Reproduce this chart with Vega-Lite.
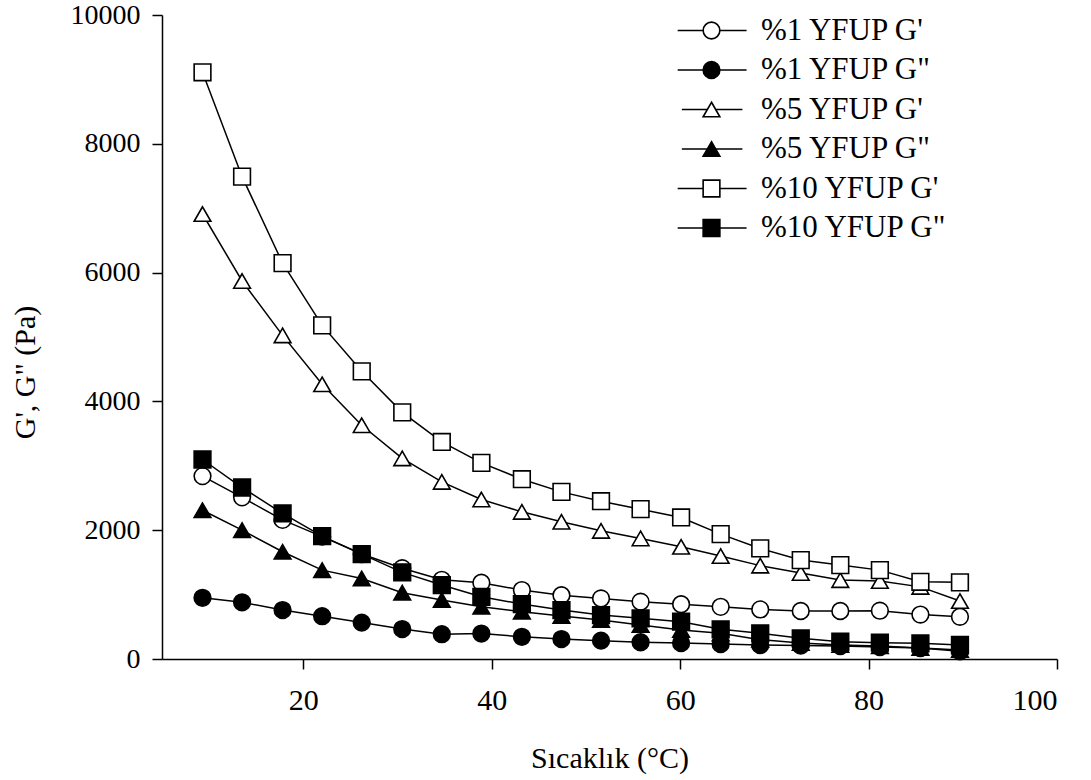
{
  "$schema": "https://vega.github.io/schema/vega-lite/v6.json",
  "autosize": {"type": "none"},
  "padding": {"left": 162, "top": 15, "right": 34, "bottom": 121},
  "width": 895,
  "height": 644,
  "background": "white",
  "config": {
    "font": "Liberation Serif",
    "view": {"stroke": null},
    "axis": {
      "grid": false,
      "domainColor": "black",
      "domainWidth": 1.5,
      "tickColor": "black",
      "tickWidth": 1.5,
      "tickSize": 10,
      "labelColor": "black",
      "labelFontSize": 30,
      "labelFont": "Liberation Serif",
      "titleColor": "black",
      "titleFontSize": 30,
      "titleFont": "Liberation Serif",
      "titleFontWeight": "normal"
    },
    "legend": {
      "labelFont": "Liberation Serif",
      "labelFontSize": 31,
      "labelColor": "black",
      "labelLimit": 0
    }
  },
  "data": {
    "values": [
      {"T": 9.3, "G": 2840, "s": "%1 YFUP G'"},
      {"T": 13.5, "G": 2510, "s": "%1 YFUP G'"},
      {"T": 17.8, "G": 2160, "s": "%1 YFUP G'"},
      {"T": 22.0, "G": 1900, "s": "%1 YFUP G'"},
      {"T": 26.2, "G": 1630, "s": "%1 YFUP G'"},
      {"T": 30.5, "G": 1410, "s": "%1 YFUP G'"},
      {"T": 34.7, "G": 1230, "s": "%1 YFUP G'"},
      {"T": 38.9, "G": 1184, "s": "%1 YFUP G'"},
      {"T": 43.2, "G": 1070, "s": "%1 YFUP G'"},
      {"T": 47.4, "G": 990, "s": "%1 YFUP G'"},
      {"T": 51.6, "G": 940, "s": "%1 YFUP G'"},
      {"T": 55.8, "G": 890, "s": "%1 YFUP G'"},
      {"T": 60.1, "G": 850, "s": "%1 YFUP G'"},
      {"T": 64.3, "G": 810, "s": "%1 YFUP G'"},
      {"T": 68.5, "G": 770, "s": "%1 YFUP G'"},
      {"T": 72.8, "G": 745, "s": "%1 YFUP G'"},
      {"T": 77.0, "G": 745, "s": "%1 YFUP G'"},
      {"T": 81.2, "G": 750, "s": "%1 YFUP G'"},
      {"T": 85.5, "G": 690, "s": "%1 YFUP G'"},
      {"T": 89.7, "G": 655, "s": "%1 YFUP G'"},
      {"T": 9.3, "G": 950, "s": "%1 YFUP G\""},
      {"T": 13.5, "G": 880, "s": "%1 YFUP G\""},
      {"T": 17.8, "G": 760, "s": "%1 YFUP G\""},
      {"T": 22.0, "G": 665, "s": "%1 YFUP G\""},
      {"T": 26.2, "G": 565, "s": "%1 YFUP G\""},
      {"T": 30.5, "G": 465, "s": "%1 YFUP G\""},
      {"T": 34.7, "G": 385, "s": "%1 YFUP G\""},
      {"T": 38.9, "G": 395, "s": "%1 YFUP G\""},
      {"T": 43.2, "G": 345, "s": "%1 YFUP G\""},
      {"T": 47.4, "G": 310, "s": "%1 YFUP G\""},
      {"T": 51.6, "G": 285, "s": "%1 YFUP G\""},
      {"T": 55.8, "G": 260, "s": "%1 YFUP G\""},
      {"T": 60.1, "G": 248, "s": "%1 YFUP G\""},
      {"T": 64.3, "G": 233, "s": "%1 YFUP G\""},
      {"T": 68.5, "G": 217, "s": "%1 YFUP G\""},
      {"T": 72.8, "G": 209, "s": "%1 YFUP G\""},
      {"T": 77.0, "G": 200, "s": "%1 YFUP G\""},
      {"T": 81.2, "G": 186, "s": "%1 YFUP G\""},
      {"T": 85.5, "G": 170, "s": "%1 YFUP G\""},
      {"T": 89.7, "G": 120, "s": "%1 YFUP G\""},
      {"T": 9.3, "G": 6910, "s": "%5 YFUP G'"},
      {"T": 13.5, "G": 5870, "s": "%5 YFUP G'"},
      {"T": 17.8, "G": 5025, "s": "%5 YFUP G'"},
      {"T": 22.0, "G": 4265, "s": "%5 YFUP G'"},
      {"T": 26.2, "G": 3630, "s": "%5 YFUP G'"},
      {"T": 30.5, "G": 3115, "s": "%5 YFUP G'"},
      {"T": 34.7, "G": 2750, "s": "%5 YFUP G'"},
      {"T": 38.9, "G": 2477, "s": "%5 YFUP G'"},
      {"T": 43.2, "G": 2285, "s": "%5 YFUP G'"},
      {"T": 47.4, "G": 2130, "s": "%5 YFUP G'"},
      {"T": 51.6, "G": 1990, "s": "%5 YFUP G'"},
      {"T": 55.8, "G": 1872, "s": "%5 YFUP G'"},
      {"T": 60.1, "G": 1742, "s": "%5 YFUP G'"},
      {"T": 64.3, "G": 1598, "s": "%5 YFUP G'"},
      {"T": 68.5, "G": 1450, "s": "%5 YFUP G'"},
      {"T": 72.8, "G": 1335, "s": "%5 YFUP G'"},
      {"T": 77.0, "G": 1225, "s": "%5 YFUP G'"},
      {"T": 81.2, "G": 1210, "s": "%5 YFUP G'"},
      {"T": 85.5, "G": 1120, "s": "%5 YFUP G'"},
      {"T": 89.7, "G": 900, "s": "%5 YFUP G'"},
      {"T": 9.3, "G": 2310, "s": "%5 YFUP G\""},
      {"T": 13.5, "G": 2000, "s": "%5 YFUP G\""},
      {"T": 17.8, "G": 1665, "s": "%5 YFUP G\""},
      {"T": 22.0, "G": 1380, "s": "%5 YFUP G\""},
      {"T": 26.2, "G": 1250, "s": "%5 YFUP G\""},
      {"T": 30.5, "G": 1030, "s": "%5 YFUP G\""},
      {"T": 34.7, "G": 915, "s": "%5 YFUP G\""},
      {"T": 38.9, "G": 810, "s": "%5 YFUP G\""},
      {"T": 43.2, "G": 735, "s": "%5 YFUP G\""},
      {"T": 47.4, "G": 667, "s": "%5 YFUP G\""},
      {"T": 51.6, "G": 605, "s": "%5 YFUP G\""},
      {"T": 55.8, "G": 527, "s": "%5 YFUP G\""},
      {"T": 60.1, "G": 450, "s": "%5 YFUP G\""},
      {"T": 64.3, "G": 398, "s": "%5 YFUP G\""},
      {"T": 68.5, "G": 300, "s": "%5 YFUP G\""},
      {"T": 72.8, "G": 250, "s": "%5 YFUP G\""},
      {"T": 77.0, "G": 217, "s": "%5 YFUP G\""},
      {"T": 81.2, "G": 200, "s": "%5 YFUP G\""},
      {"T": 85.5, "G": 170, "s": "%5 YFUP G\""},
      {"T": 89.7, "G": 140, "s": "%5 YFUP G\""},
      {"T": 9.3, "G": 9110, "s": "%10 YFUP G'"},
      {"T": 13.5, "G": 7490, "s": "%10 YFUP G'"},
      {"T": 17.8, "G": 6147, "s": "%10 YFUP G'"},
      {"T": 22.0, "G": 5180, "s": "%10 YFUP G'"},
      {"T": 26.2, "G": 4467, "s": "%10 YFUP G'"},
      {"T": 30.5, "G": 3830, "s": "%10 YFUP G'"},
      {"T": 34.7, "G": 3370, "s": "%10 YFUP G'"},
      {"T": 38.9, "G": 3045, "s": "%10 YFUP G'"},
      {"T": 43.2, "G": 2792, "s": "%10 YFUP G'"},
      {"T": 47.4, "G": 2595, "s": "%10 YFUP G'"},
      {"T": 51.6, "G": 2450, "s": "%10 YFUP G'"},
      {"T": 55.8, "G": 2327, "s": "%10 YFUP G'"},
      {"T": 60.1, "G": 2198, "s": "%10 YFUP G'"},
      {"T": 64.3, "G": 1939, "s": "%10 YFUP G'"},
      {"T": 68.5, "G": 1717, "s": "%10 YFUP G'"},
      {"T": 72.8, "G": 1536, "s": "%10 YFUP G'"},
      {"T": 77.0, "G": 1458, "s": "%10 YFUP G'"},
      {"T": 81.2, "G": 1380, "s": "%10 YFUP G'"},
      {"T": 85.5, "G": 1199, "s": "%10 YFUP G'"},
      {"T": 89.7, "G": 1190, "s": "%10 YFUP G'"},
      {"T": 9.3, "G": 3098, "s": "%10 YFUP G\""},
      {"T": 13.5, "G": 2663, "s": "%10 YFUP G\""},
      {"T": 17.8, "G": 2260, "s": "%10 YFUP G\""},
      {"T": 22.0, "G": 1908, "s": "%10 YFUP G\""},
      {"T": 26.2, "G": 1629, "s": "%10 YFUP G\""},
      {"T": 30.5, "G": 1345, "s": "%10 YFUP G\""},
      {"T": 34.7, "G": 1148, "s": "%10 YFUP G\""},
      {"T": 38.9, "G": 966, "s": "%10 YFUP G\""},
      {"T": 43.2, "G": 853, "s": "%10 YFUP G\""},
      {"T": 47.4, "G": 760, "s": "%10 YFUP G\""},
      {"T": 51.6, "G": 682, "s": "%10 YFUP G\""},
      {"T": 55.8, "G": 631, "s": "%10 YFUP G\""},
      {"T": 60.1, "G": 579, "s": "%10 YFUP G\""},
      {"T": 64.3, "G": 461, "s": "%10 YFUP G\""},
      {"T": 68.5, "G": 399, "s": "%10 YFUP G\""},
      {"T": 72.8, "G": 321, "s": "%10 YFUP G\""},
      {"T": 77.0, "G": 268, "s": "%10 YFUP G\""},
      {"T": 81.2, "G": 253, "s": "%10 YFUP G\""},
      {"T": 85.5, "G": 243, "s": "%10 YFUP G\""},
      {"T": 89.7, "G": 217, "s": "%10 YFUP G\""}
    ]
  },
  "encoding": {
    "x": {
      "field": "T",
      "type": "quantitative",
      "scale": {"domain": [5, 100], "nice": false, "zero": false},
      "axis": {
        "title": "Sıcaklık (°C)",
        "values": [20, 40, 60, 80, 100],
        "labelPadding": 16,
        "titlePadding": 28
      }
    },
    "y": {
      "field": "G",
      "type": "quantitative",
      "scale": {"domain": [0, 10000], "nice": false},
      "axis": {
        "title": "G', G\" (Pa)",
        "format": "d",
        "values": [0, 2000, 4000, 6000, 8000, 10000],
        "labelFontSize": 28,
        "labelPadding": 12,
        "titleAngle": -90,
        "titleX": -137,
        "titleY": 357,
        "titleAlign": "center",
        "titleBaseline": "middle"
      }
    }
  },
  "resolve": {"scale": {"shape": "independent", "fill": "independent", "size": "independent"}},
  "layer": [
    {
      "mark": {"type": "line", "color": "black", "strokeWidth": 1.5},
      "encoding": {"detail": {"field": "s", "type": "nominal"}}
    },
    {
      "mark": {"type": "point", "filled": false, "stroke": "black", "strokeWidth": 1.6, "opacity": 1},
      "encoding": {
        "shape": {
          "field": "s",
          "type": "nominal",
          "scale": {
            "domain": ["%1 YFUP G'", "%1 YFUP G\"", "%5 YFUP G'", "%5 YFUP G\"", "%10 YFUP G'", "%10 YFUP G\""],
            "range": ["circle", "circle", "triangle-up", "triangle-up", "square", "square"]
          },
          "legend": null
        },
        "fill": {
          "field": "s",
          "type": "nominal",
          "scale": {
            "domain": ["%1 YFUP G'", "%1 YFUP G\"", "%5 YFUP G'", "%5 YFUP G\"", "%10 YFUP G'", "%10 YFUP G\""],
            "range": ["white", "black", "white", "black", "white", "black"]
          },
          "legend": null
        },
        "size": {
          "field": "s",
          "type": "nominal",
          "scale": {
            "domain": ["%1 YFUP G'", "%1 YFUP G\"", "%5 YFUP G'", "%5 YFUP G\"", "%10 YFUP G'", "%10 YFUP G\""],
            "range": [279, 279, 361, 361, 279, 279]
          },
          "legend": null
        }
      }
    },
    {
      "transform": [{"filter": "datum.G < 0"}],
      "mark": {"type": "point", "filled": false, "stroke": "black", "strokeWidth": 1.6, "opacity": 1},
      "encoding": {
        "shape": {
          "field": "s",
          "type": "nominal",
          "scale": {
            "domain": ["%1 YFUP G'", "%1 YFUP G\"", "%5 YFUP G'", "%5 YFUP G\"", "%10 YFUP G'", "%10 YFUP G\""],
            "range": [
              "M-4.05,0H-1M1,0H4.2M-1,0A1,1,0,1,0,1,0A1,1,0,1,0,-1,0Z",
              "M-4.05,0H-1M1,0H4.2M-1,0A1,1,0,1,0,1,0A1,1,0,1,0,-1,0Z",
              "M-3.55,0H-0.5M0.5,0H3.7M0,-0.866L1,0.866L-1,0.866Z",
              "M-3.55,0H-0.5M0.5,0H3.7M0,-0.866L1,0.866L-1,0.866Z",
              "M-4.05,0H-1M1,0H4.2M-1,-1H1V1H-1Z",
              "M-4.05,0H-1M1,0H4.2M-1,-1H1V1H-1Z"
            ]
          },
          "legend": {
            "title": null,
            "orient": "none",
            "legendX": 534,
            "legendY": 0,
            "padding": 0,
            "rowPadding": 7.5,
            "labelOffset": 34,
            "labelLimit": 0,
            "labelBaseline": "middle",
            "symbolStrokeColor": "black",
            "symbolStrokeWidth": 1.6,
            "symbolOpacity": 1
          }
        },
        "fill": {
          "field": "s",
          "type": "nominal",
          "scale": {
            "domain": ["%1 YFUP G'", "%1 YFUP G\"", "%5 YFUP G'", "%5 YFUP G\"", "%10 YFUP G'", "%10 YFUP G\""],
            "range": ["white", "black", "white", "black", "white", "black"]
          },
          "legend": {"title": null}
        },
        "size": {
          "field": "s",
          "type": "nominal",
          "scale": {
            "domain": ["%1 YFUP G'", "%1 YFUP G\"", "%5 YFUP G'", "%5 YFUP G\"", "%10 YFUP G'", "%10 YFUP G\""],
            "range": [279, 279, 361, 361, 279, 279]
          },
          "legend": {"title": null}
        }
      }
    }
  ]
}
